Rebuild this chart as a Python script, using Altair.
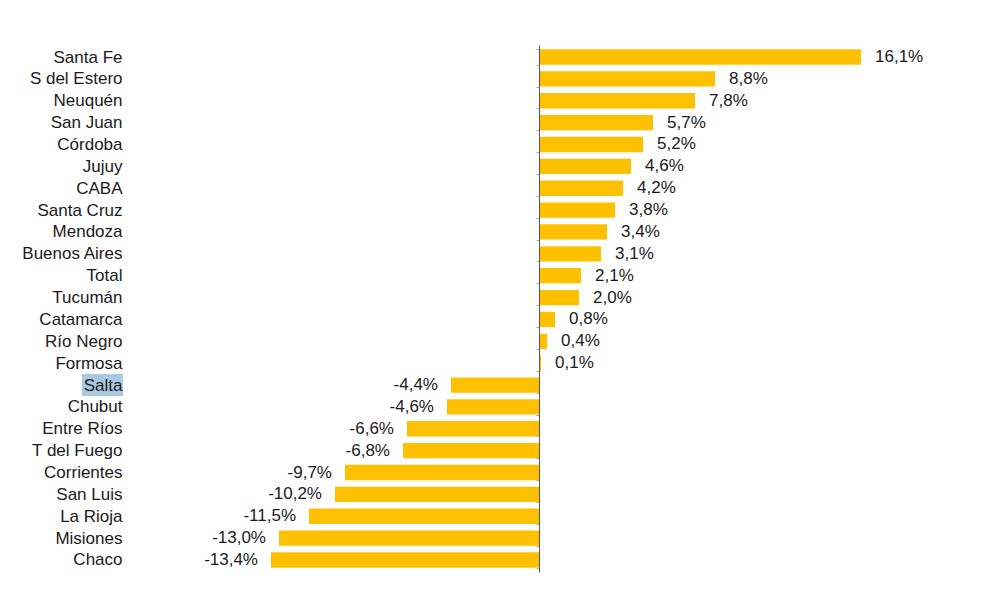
import altair as alt
import pandas as pd

provinces = ["Santa Fe", "S del Estero", "Neuquén", "San Juan\u00a0", "Córdoba", "Jujuy", "CABA",
             "Santa Cruz", "Mendoza", "Buenos Aires", "Total", "Tucumán", "Catamarca",
             "Río Negro", "Formosa", "Salta", "Chubut", "Entre Ríos", "T del Fuego",
             "Corrientes", "San Luis", "La Rioja", "Misiones", "Chaco"]
values = [16.1, 8.8, 7.8, 5.7, 5.2, 4.6, 4.2, 3.8, 3.4, 3.1, 2.1, 2.0, 0.8, 0.4, 0.1,
          -4.4, -4.6, -6.6, -6.8, -9.7, -10.2, -11.5, -13.0, -13.4]
highlighted = ["Salta"]

df = pd.DataFrame({"prov": provinces, "val": values})
df["label"] = [f"{v:.1f}".replace(".", ",") + "%" for v in values]

FONT = "Liberation Sans"
FS = 17
TXT = "#1a1a1a"

y = alt.Y(
    "prov:N", sort=provinces,
    scale=alt.Scale(paddingInner=0.3, paddingOuter=0.2),
    axis=alt.Axis(title=None, orient="left", offset=-400, domain=True, domainColor="#555555",
                  domainWidth=1, ticks=True, tickBand="extent", tickSize=3, tickColor="#aaaaaa",
                  labelPadding=414, labelFont=FONT, labelFontSize=FS, labelColor=TXT, grid=False,
                  zindex=1),
)
x = alt.X("val:Q", scale=alt.Scale(domain=[-20, 20], nice=False), axis=None)

base = alt.Chart(df)

hl = base.transform_filter(
    alt.FieldOneOfPredicate(field="prov", oneOf=highlighted)
).mark_bar(height=22, color="#a9c9e3").encode(y=y, x=alt.value(-57), x2=alt.value(-16))

bars = base.mark_bar(color="#FFC000").encode(y=y, x=x)

pos = base.transform_filter("datum.val >= 0").mark_text(
    align="left", dx=14, font=FONT, fontSize=FS, color=TXT
).encode(y=y, x=x, text="label:N")

neg = base.transform_filter("datum.val < 0").mark_text(
    align="right", dx=-13, font=FONT, fontSize=FS, color=TXT
).encode(y=y, x=x, text="label:N")

chart = alt.layer(hl, bars, pos, neg).properties(
    width=800, height=527,
    autosize=alt.AutoSizeParams(type="none"),
    padding={"left": 139, "right": 51, "top": 45, "bottom": 39},
    background="white",
).configure_view(stroke=None, strokeWidth=0)

chart.save("out.html", embed_options={"renderer": "svg", "actions": False})
